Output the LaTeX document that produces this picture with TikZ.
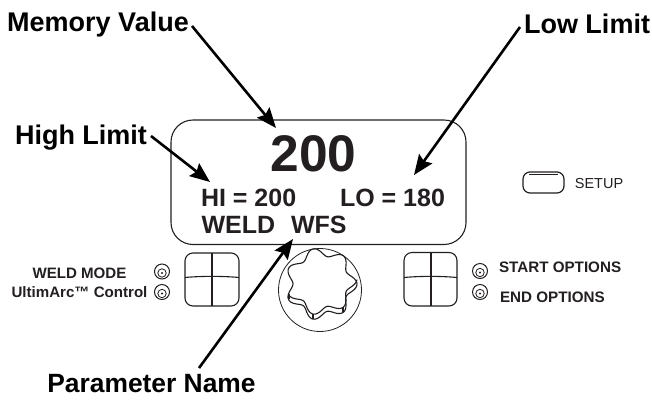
\documentclass[tikz,border=0pt]{standalone}
\usepackage{fontspec}
\setmainfont{Liberation Sans}
\usetikzlibrary{arrows.meta}
\definecolor{ink}{HTML}{231F20}
\tikzset{
  every node/.style={inner sep=0pt,outer sep=0pt,text=ink},
  lab/.style={font=\fontsize{27}{30}\bfseries\selectfont,text=black},
  val/.style={font=\fontsize{25}{27}\bfseries\selectfont,anchor=west},
  small/.style={font=\fontsize{15.1}{17}\bfseries\selectfont},
  smallb/.style={font=\fontsize{15.2}{17}\bfseries\selectfont,anchor=west},
  pointer/.style={draw=black,line width=2.6pt,-{Stealth[length=20pt,width=16pt,inset=3pt]},shorten >=0pt},
  outline/.style={draw=ink,line width=1.1pt},
  thin line/.style={draw=ink,line width=0.8pt},
}
\newcommand{\ledmark}[2]{%
  \draw[thin line,line width=1pt] (#1,#2) circle (7.5);
  \draw[thin line] (#1,#2+1.5) circle (4.2);
  \fill[ink] (#1,#2+1.5) circle (1.1);
}
\begin{document}
\begin{tikzpicture}[x=1pt,y=-1pt]
\useasboundingbox (0,0) rectangle (652,399);
% labels
\node[lab] (mem) at (98,25) {Memory Value};
\node[lab] (low) at (587,24) {Low Limit};
\node[lab] (high) at (81,138) {High Limit};
\node[lab,font=\fontsize{26.4}{30}\bfseries\selectfont] (par) at (151.5,384) {Parameter Name};
% display
\draw[outline,rounded corners=22pt] (171,120) -- (466,120) -- (466,244.5) -- (171,244.5) -- cycle;
\node[font=\fontsize{51.5}{56}\bfseries\selectfont] (val) at (313.5,154) {200};
\node[val] (hi) at (201,198) {HI = 200};
\node[val] (lo) at (340,198) {LO = 180};
\node[val] (wf) at (201.5,225) {WELD\hspace{16pt}WFS};
% pointers
\coordinate (m1) at (192,26); \coordinate (m2) at (276,128);
\coordinate (h1) at (151,136); \coordinate (h2) at (210,182);
\coordinate (l1) at (520,27); \coordinate (l2) at (414,175);
\coordinate (p1) at (199,368); \coordinate (p2) at (293,239);
\draw[pointer] (m1) -- (m2);
\draw[pointer] (h1) -- (h2);
\draw[pointer] (l1) -- (l2);
\draw[pointer] (p1) -- (p2);
% arrow pads
\draw[outline,rounded corners=8pt] (185,253) rectangle (239,306);
\draw[outline] (212,253) -- (212,306);
\draw[outline] (185,277.5) .. controls (200,276) and (224,276) .. (239,277.5);
\draw[outline,rounded corners=8pt] (404,252.5) rectangle (457,306);
\draw[outline] (431,252.5) -- (431,306);
\draw[outline] (404,277.5) .. controls (420,276) and (441,276) .. (457,277.5);
% knob
\draw[thin line] (320,290) circle (41.5);
\draw[outline,line join=round,smooth,samples=141,domain=0:360,variable=\t]
  plot ({321+(32+4*cos(7*(\t-103)))*cos(\t)},{284+(32+4*cos(7*(\t-103)))*sin(\t)}) -- cycle;
\draw[outline,smooth,samples=40,domain=1:155,variable=\t]
  plot ({321+(32+4*cos(7*(\t-103)))*cos(\t)},{279+(32+4*cos(7*(\t-103)))*sin(\t)});
\draw[outline] (289,299) -- (289,294);
\draw[outline] (313,319) -- (313,314);
\draw[outline] (343,312) -- (343,307);
% indicators
\ledmark{162}{271.5}
\ledmark{162}{292}
\ledmark{480}{271}
\ledmark{480}{292}
% setup button
\draw[outline,rounded corners=7pt,line width=1.2pt] (523,172) rectangle (564,193);
\draw[thin line] (529,174) -- (558,174);
\node[font=\fontsize{14.5}{16}\selectfont] (setup) at (599,184) {SETUP};
% small labels
\node[small] (wm) at (79.5,273) {WELD MODE};
\node[small] (ua) at (79.5,292) {UltimArc™ Control};
\node[smallb] (so) at (499,267) {START OPTIONS};
\node[smallb] (eo) at (500,297) {END OPTIONS};
\end{tikzpicture}
\end{document}
